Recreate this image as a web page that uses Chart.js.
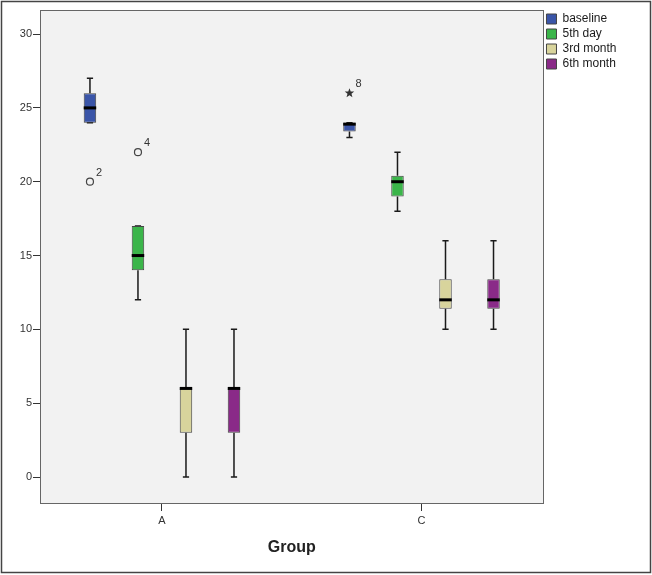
<!DOCTYPE html>
<html>
<head>
<meta charset="utf-8">
<script src="https://cdn.jsdelivr.net/npm/chart.js@4"></script>
<style>
  body { margin: 0; background: #fff; }
  #wrap { width: 652px; height: 575px; position: relative; }
</style>
</head>
<body>
<div id="wrap"><canvas id="boxChart"></canvas></div>
<script>
// groups on the x axis and the four time points
const groups = ['A', 'C'];
const seriesNames = ['baseline', '5th day', '3rd month', '6th month'];
const seriesColors = ['#3a55a8', '#3bb54a', '#d8d49c', '#8a2a88'];

// box plot numbers, one row per series, one value per group (A, C)
const minVals    = [[24, 23],   [12, 18],   [0, 10],    [0, 10]];
const q1Vals     = [[24, 23.4], [14, 19],   [3, 11.4],  [3, 11.4]];
const medianVals = [[25, 23.9], [15, 20],   [6, 12],    [6, 12]];
const q3Vals     = [[26, 24],   [17, 20.4], [6, 13.4],  [6, 13.4]];
const maxVals    = [[27, 24],   [17, 22],   [10, 16],   [10, 16]];

// outliers (o) and extremes (*)
const outSeries = [0, 1, 0];
const outGroup  = [0, 0, 1];
const outValue  = [20, 22, 26];
const outLabel  = ['2', '4', '8'];
const outKind   = ['o', 'o', '*'];

const yMin = -1.76, yMax = 31.63;

const FONT = '"Liberation Sans", Arial, sans-serif';

const boxplotPlugin = {
  id: 'boxplot',
  beforeDraw(chart) {
    const { ctx, chartArea: a } = chart;
    ctx.save();
    ctx.fillStyle = '#ffffff';
    ctx.fillRect(0, 0, chart.width, chart.height);
    ctx.fillStyle = '#f2f2f2';
    ctx.fillRect(a.left, a.top, a.right - a.left, a.bottom - a.top);
    ctx.restore();
  },
  beforeDatasetsDraw(chart) {
    const { ctx } = chart;
    const y = chart.scales.y;
    ctx.save();
    ctx.strokeStyle = '#1a1a1a';
    ctx.lineWidth = 1.5;
    seriesNames.forEach((name, s) => {
      const meta = chart.getDatasetMeta(s);
      meta.data.forEach((bar, g) => {
        const x = bar.x, cw = bar.width * 0.5;
        const yLo = y.getPixelForValue(minVals[s][g]);
        const yHi = y.getPixelForValue(maxVals[s][g]);
        ctx.beginPath();
        ctx.moveTo(x, yLo); ctx.lineTo(x, y.getPixelForValue(q1Vals[s][g]));
        ctx.moveTo(x, y.getPixelForValue(q3Vals[s][g])); ctx.lineTo(x, yHi);
        ctx.moveTo(x - cw / 2, yLo); ctx.lineTo(x + cw / 2, yLo);
        ctx.moveTo(x - cw / 2, yHi); ctx.lineTo(x + cw / 2, yHi);
        ctx.stroke();
      });
    });
    ctx.restore();
  },
  afterDatasetsDraw(chart) {
    const { ctx } = chart;
    const y = chart.scales.y;
    ctx.save();
    // medians
    ctx.strokeStyle = '#000';
    ctx.lineWidth = 3;
    seriesNames.forEach((name, s) => {
      chart.getDatasetMeta(s).data.forEach((bar, g) => {
        const ym = y.getPixelForValue(medianVals[s][g]);
        ctx.beginPath();
        ctx.moveTo(bar.x - bar.width / 2, ym);
        ctx.lineTo(bar.x + bar.width / 2, ym);
        ctx.stroke();
      });
    });
    // outliers
    ctx.font = '11px ' + FONT;
    ctx.textAlign = 'center';
    ctx.textBaseline = 'middle';
    outValue.forEach((v, i) => {
      const bar = chart.getDatasetMeta(outSeries[i]).data[outGroup[i]];
      const px = bar.x, py = y.getPixelForValue(v);
      if (outKind[i] === 'o') {
        ctx.strokeStyle = '#444';
        ctx.lineWidth = 1.2;
        ctx.beginPath();
        ctx.arc(px, py, 3.5, 0, Math.PI * 2);
        ctx.stroke();
      } else {
        ctx.fillStyle = '#333';
        ctx.beginPath();
        for (let k = 0; k < 10; k++) {
          const r = k % 2 === 0 ? 5 : 2.1;
          const ang = -Math.PI / 2 + k * Math.PI / 5;
          const sx = px + r * Math.cos(ang), sy = py + r * Math.sin(ang);
          if (k === 0) ctx.moveTo(sx, sy); else ctx.lineTo(sx, sy);
        }
        ctx.closePath();
        ctx.fill();
      }
      ctx.fillStyle = '#333';
      ctx.fillText(outLabel[i], px + 9, py - 9);
    });
    ctx.restore();
  },
  afterDraw(chart) {
    const { ctx, chartArea: a } = chart;
    ctx.save();
    ctx.strokeStyle = '#666';
    ctx.lineWidth = 1;
    ctx.strokeRect(Math.round(a.left) + 0.5, Math.round(a.top) + 0.5,
      Math.round(a.right - a.left), Math.round(a.bottom - a.top));
    ctx.strokeStyle = '#444';
    ctx.lineWidth = 1.5;
    ctx.strokeRect(1.5, 1.5, 649, 571);
    ctx.restore();
  }
};

const datasets = seriesNames.map((name, s) => ({
  label: name,
  data: groups.map((g, i) => ({ x: i, y: [q1Vals[s][i], q3Vals[s][i]] })),
  backgroundColor: seriesColors[s],
  borderColor: '#444',
  borderWidth: 1,
  borderSkipped: false,
  categoryPercentage: 0.74,
  barPercentage: 0.26
}));

new Chart(document.getElementById('boxChart'), {
  type: 'bar',
  data: { datasets: datasets },
  options: {
    responsive: true,
    maintainAspectRatio: false,
    animation: false,
    layout: { padding: { left: 0, top: 10, right: 25.5, bottom: 0 } },
    plugins: {
      tooltip: { enabled: false },
      legend: {
        position: 'right',
        align: 'start',
        labels: {
          boxWidth: 10,
          boxHeight: 10,
          padding: 3,
          color: '#1a1a1a',
          font: { family: FONT, size: 12 }
        }
      }
    },
    scales: {
      x: {
        type: 'linear',
        min: -0.47,
        max: 1.47,
        offset: false,
        afterFit(scale) { scale.height = 72; },
        ticks: {
          stepSize: 1,
          includeBounds: false,
          padding: 3,
          color: '#333',
          font: { family: FONT, size: 11 },
          callback: (v) => groups[v] !== undefined && Number.isInteger(v) ? groups[v] : ''
        },
        grid: { offset: false, drawOnChartArea: false, tickLength: 8, color: '#333' },
        border: { display: false },
        title: {
          display: true,
          text: 'Group',
          color: '#222',
          font: { family: FONT, size: 16, weight: 'bold' },
          padding: { top: 0, bottom: 18 }
        }
      },
      y: {
        min: yMin,
        max: yMax,
        afterFit(scale) { scale.width = 40; },
        ticks: {
          stepSize: 5,
          includeBounds: false,
          padding: 1,
          color: '#333',
          font: { family: FONT, size: 11 }
        },
        grid: { drawOnChartArea: false, tickLength: 7, color: '#333' },
        border: { display: false }
      }
    }
  },
  plugins: [boxplotPlugin]
});
</script>
</body>
</html>
